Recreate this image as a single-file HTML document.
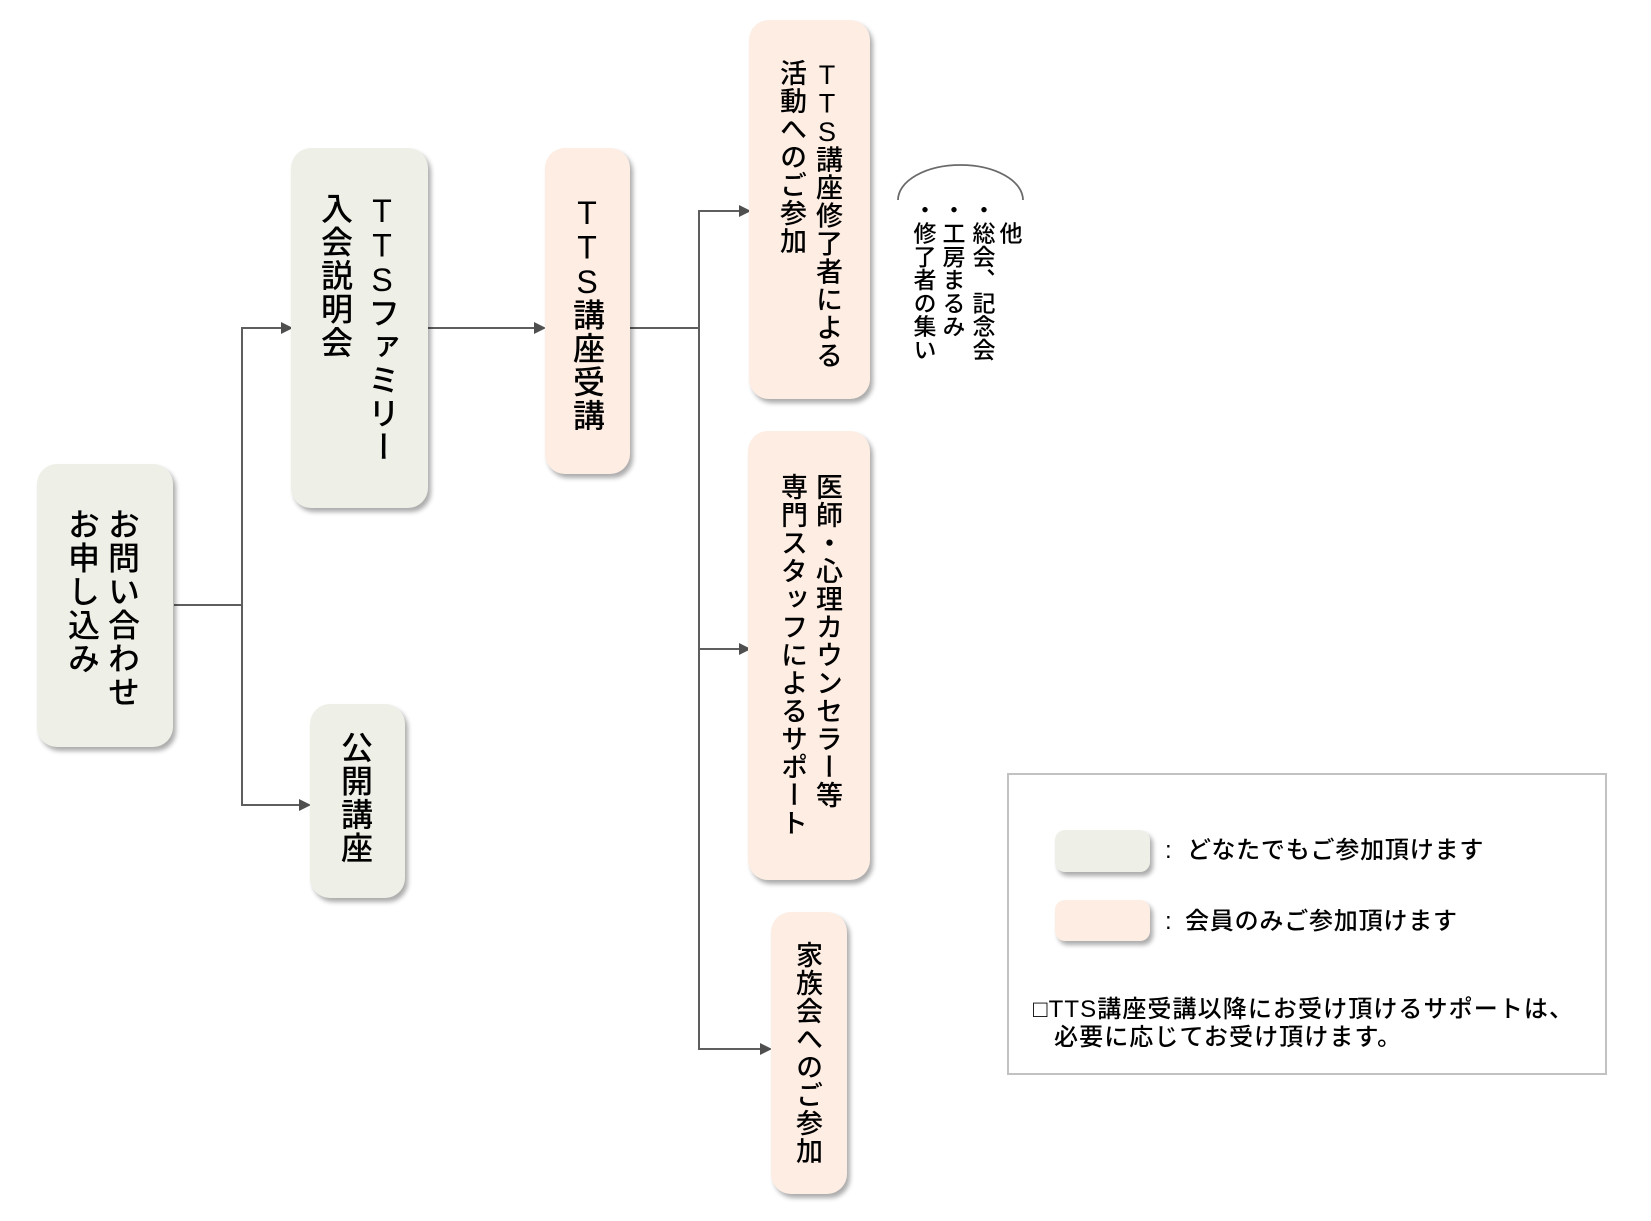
<!DOCTYPE html>
<html><head><meta charset="utf-8">
<style>
html,body{margin:0;padding:0;background:#fff;}
body{width:1651px;height:1221px;position:relative;overflow:hidden;font-family:"Liberation Sans","Noto Sans CJK JP",sans-serif;color:#000;}
.box{position:absolute;border-radius:20px;box-shadow:3px 4px 5px rgba(0,0,0,0.33);}
.g{background:#eef0e7;}
.p{background:#fdede3;}
.col{position:absolute;writing-mode:vertical-rl;text-orientation:upright;white-space:nowrap;font-weight:500;}
.big{font-size:32px;letter-spacing:1.5px;width:40px;line-height:40px;}
.big .l{letter-spacing:-1.5px;}
.sm{font-size:27px;letter-spacing:1.0px;width:34px;line-height:34px;}
.sm .l{letter-spacing:-1.5px;}
.ann{font-size:23px;letter-spacing:0.3px;width:29px;line-height:29px;}
.t{position:absolute;white-space:nowrap;font-size:24px;line-height:24px;font-weight:500;}
svg{position:absolute;left:0;top:0;}
</style></head><body>

<svg width="1651" height="1221" viewBox="0 0 1651 1221">
 <g stroke="#5e5e5e" stroke-width="2" fill="none">
  <line x1="174" y1="605" x2="243" y2="605"/>
  <line x1="242" y1="327" x2="242" y2="806"/>
  <line x1="241" y1="328" x2="283" y2="328"/>
  <line x1="241" y1="805" x2="301" y2="805"/>
  <line x1="428" y1="328" x2="536" y2="328"/>
  <line x1="630" y1="328" x2="700" y2="328"/>
  <line x1="699" y1="210" x2="699" y2="1050"/>
  <line x1="698" y1="211" x2="741" y2="211"/>
  <line x1="698" y1="649" x2="741" y2="649"/>
  <line x1="698" y1="1049" x2="762" y2="1049"/>
 </g>
 <g fill="#4f4f4f">
  <polygon points="293,328 281,322 281,334"/>
  <polygon points="311,805 299,799 299,811"/>
  <polygon points="546,328 534,322 534,334"/>
  <polygon points="751,211 739,205 739,217"/>
  <polygon points="751,649 739,643 739,655"/>
  <polygon points="772,1049 760,1043 760,1055"/>
 </g>
 <path d="M 898 200 A 62.5 35 0 0 1 1023 200" stroke="#6a6a6a" stroke-width="1.8" fill="none"/>
 <rect x="1008" y="774" width="598" height="300" fill="none" stroke="#c2c2c2" stroke-width="2"/>
</svg>

<!-- boxes -->
<div class="box g" style="left:37px;top:464px;width:136px;height:283px;"></div>
<div class="box g" style="left:291px;top:148px;width:137px;height:360px;"></div>
<div class="box p" style="left:545px;top:148px;width:85px;height:326px;"></div>
<div class="box p" style="left:749px;top:20px;width:121px;height:379px;"></div>
<div class="box p" style="left:748px;top:431px;width:122px;height:449px;"></div>
<div class="box p" style="left:771px;top:912px;width:76px;height:282px;"></div>
<div class="box g" style="left:310px;top:704px;width:95px;height:194px;"></div>

<!-- texts -->
<div class="col big" style="left:102px;top:508px;">お問い合わせ</div>
<div class="col big" style="left:62px;top:508px;">お申し込み</div>

<div class="col big" style="left:362px;top:193px;"><span class="l">TTS</span>ファミリー</div>
<div class="col big" style="left:315px;top:192px;">入会説明会</div>

<div class="col big" style="left:567px;top:195px;"><span class="l">TTS</span>講座受講</div>

<div class="col big" style="left:335px;top:731px;">公開講座</div>

<div class="col sm" style="left:810px;top:60px;"><span class="l">TTS</span>講座修了者による</div>
<div class="col sm" style="left:774px;top:59px;">活動へのご参加</div>

<div class="col sm" style="left:810px;top:473px;">医師・心理カウンセラー等</div>
<div class="col sm" style="left:775px;top:473px;">専門スタッフによるサポート</div>

<div class="col sm" style="left:790px;top:941px;">家族会へのご参加</div>

<!-- annotation -->
<div class="col ann" style="left:994px;top:198px;">　他</div>
<div class="col ann" style="left:967px;top:198px;">・総会、記念会</div>
<div class="col ann" style="left:937px;top:198px;">・工房まるみ</div>
<div class="col ann" style="left:908px;top:198px;">・修了者の集い</div>

<!-- legend -->
<div class="box g" style="left:1055px;top:830px;width:95px;height:42px;border-radius:10px;"></div>
<div class="box p" style="left:1055px;top:900px;width:95px;height:41px;border-radius:10px;"></div>
<div class="t" style="left:1165px;top:839px;">:</div>
<div class="t" style="left:1187px;top:839px;letter-spacing:0.8px;">どなたでもご参加頂けます</div>
<div class="t" style="left:1165px;top:910px;">:</div>
<div class="t" style="left:1185px;top:910px;letter-spacing:0.8px;">会員のみご参加頂けます</div>
<div class="t" style="left:1033px;top:998px;letter-spacing:1.1px;">□TTS講座受講以降にお受け頂けるサポートは、</div>
<div class="t" style="left:1054px;top:1026px;letter-spacing:1.1px;">必要に応じてお受け頂けます。</div>

</body></html>
